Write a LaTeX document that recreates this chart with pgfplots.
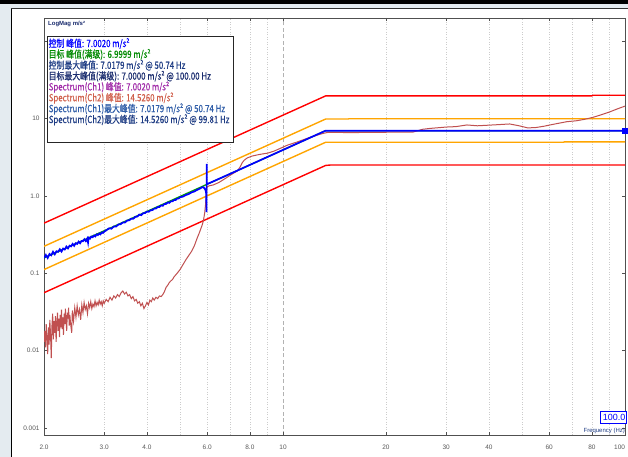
\documentclass[border=0pt]{standalone}
\usepackage{fontspec}
\setmainfont{Liberation Sans}
\newfontfamily\cjk[FakeStretch=0.79,FakeBold=0.4]{Noto Sans CJK SC}
\usepackage{pgfplots}
\pgfplotsset{compat=1.18}
\definecolor{panelgray}{HTML}{E4EBF0}
\definecolor{ablue}{HTML}{0000FF}
\definecolor{agreen}{HTML}{00A000}
\definecolor{ared}{HTML}{FF0000}
\definecolor{aorange}{HTML}{FFA500}
\definecolor{abrown}{HTML}{C05050}
\definecolor{cA}{HTML}{0000FF}
\definecolor{cB}{HTML}{008A00}
\definecolor{cC}{HTML}{1E3C84}
\definecolor{cD}{HTML}{1A2C6E}
\definecolor{cE}{HTML}{A02AA8}
\definecolor{cF}{HTML}{D0604C}
\definecolor{cG}{HTML}{2F5DA8}
\definecolor{cH}{HTML}{1E3C84}
\definecolor{tickgray}{HTML}{505050}
\begin{document}
\begin{tikzpicture}
\path[use as bounding box] (0,0) rectangle (628bp,457bp);
\fill[white] (0,0) rectangle (628bp,457bp);
\fill[panelgray] (0,0) rectangle (11bp,457bp);
\fill[panelgray] (0,448.5bp) rectangle (628bp,457bp);
\fill[black] (0,453bp) rectangle (628bp,457bp);
\draw[black, line width=1.2bp] (11.5bp,0) -- (11.5bp,448.5bp);
\draw[black!80, line width=0.9bp] (11bp,448.2bp) -- (628bp,448.2bp);
\begin{axis}[
  at={(44bp,22bp)}, anchor=south west, scale only axis,
  width=581bp, height=417bp,
  xmode=log, ymode=log,
  xmin=2, xmax=100, ymin=0.00081, ymax=200.8,
  axis line style={draw=tickgray, line width=0.8bp},
  tick align=inside, major tick length=3bp, minor tick length=0pt,
  tick style={color=tickgray, line width=0.6bp},
  xtick={2,3,4,6,8,10,20,30,40,60,80,100},
  xticklabels={2.0,3.0,4.0,6.0,8.0,10,20,30,40,60,80,\makebox[0pt][r]{100}},
  minor xtick={3,4,5,6,7,8,9,20,30,40,50,60,70,80,90},
  xminorgrids=true,
  minor grid style={color=black!20, line width=0.6bp, dash pattern=on 1bp off 1.5bp},
  extra x ticks={10}, extra x tick labels={},
  extra x tick style={grid=major, major grid style={color=black!30, line width=1bp, dash pattern=on 4bp off 2.5bp}},
  ytick={0.001,0.01,0.1,1,10,100},
  yticklabels={0.001,0.01,0.1,1.0,10,{}},
  ticklabel style={font=\fontsize{6.5}{7}\selectfont, text=black!65},
  xticklabel style={yshift=-6.5bp},
  yticklabel style={xshift=-1bp},
  /pgf/number format/assume math mode=true,
]
% limits
\addplot[ared, line width=1.4bp] coordinates {(2,0.4455) (13.32,19.73) (80,19.73) (80.6,20.1) (100,20.1)};
\addplot[aorange, line width=1.4bp] coordinates {(2,0.2235) (13.32,9.90) (15.5,9.90) (15.6,10.0) (100,10.0)};
\addplot[aorange, line width=1.4bp] coordinates {(2,0.1118) (13.32,4.955) (66,4.955) (66.5,5.02) (100,5.02)};
\addplot[ared, line width=1.4bp] coordinates {(2,0.0561) (13.32,2.485) (13.8,2.52) (100,2.52)};
% target
\addplot[agreen, line width=1.3bp] coordinates {(2,0.1579) (13.32,7.0) (100,7.0)};
% spectrum ch2
\addplot[abrown, line width=1.0bp] coordinates {
(2.00,0.013) (2.01,0.018) (2.02,0.011) (2.03,0.022) (2.04,0.014) (2.05,0.009)
(2.06,0.020) (2.07,0.012) (2.08,0.025) (2.09,0.016) (2.10,0.008) (2.11,0.021)
(2.12,0.030) (2.13,0.014) (2.14,0.024) (2.15,0.017) (2.16,0.028) (2.17,0.013)
(2.18,0.022) (2.19,0.031) (2.20,0.018) (2.21,0.026) (2.22,0.015) (2.23,0.029)
(2.24,0.020) (2.25,0.034) (2.26,0.019) (2.27,0.027) (2.28,0.016) (2.29,0.030)
(2.30,0.022) (2.31,0.035) (2.32,0.024) (2.33,0.018) (2.34,0.031) (2.35,0.026)
(2.36,0.036) (2.37,0.021) (2.38,0.029) (2.39,0.023) (2.41,0.017) (2.42,0.033)
(2.44,0.024) (2.46,0.036) (2.48,0.027) (2.50,0.038) (2.52,0.029) (2.54,0.034)
(2.56,0.025) (2.58,0.039) (2.60,0.031) (2.62,0.042) (2.64,0.034) (2.66,0.038)
(2.68,0.030) (2.70,0.041) (2.72,0.036) (2.74,0.043) (2.76,0.035) (2.78,0.040)
(2.80,0.037) (2.82,0.044) (2.84,0.038) (2.86,0.042) (2.88,0.039) (2.90,0.045)
(2.92,0.040) (2.94,0.043) (2.96,0.038) (2.98,0.044) (3.00,0.041) (3.04,0.046)
(3.08,0.043) (3.12,0.049) (3.16,0.045) (3.20,0.051) (3.24,0.048) (3.28,0.053)
(3.32,0.050) (3.36,0.056) (3.40,0.059) (3.44,0.054) (3.48,0.057) (3.52,0.051)
(3.56,0.053) (3.60,0.047) (3.64,0.050) (3.68,0.044) (3.72,0.046) (3.76,0.041)
(3.80,0.043) (3.84,0.038) (3.88,0.041) (3.92,0.035) (3.96,0.038) (4.00,0.042)
(4.04,0.039) (4.08,0.045) (4.12,0.043) (4.16,0.048) (4.20,0.045) (4.25,0.049)
(4.30,0.047) (4.35,0.051) (4.40,0.050) (4.45,0.053) (4.50,0.058) (4.55,0.066)
(4.60,0.070) (4.65,0.076) (4.70,0.080) (4.75,0.083) (4.80,0.090) (4.90,0.100)
(5.00,0.112) (5.10,0.130) (5.20,0.150) (5.30,0.170) (5.40,0.192) (5.50,0.225)
(5.60,0.280) (5.70,0.340) (5.80,0.420) (5.85,0.480) (5.90,0.600) (5.93,0.750)
(5.96,0.950) (5.98,1.200) (6.00,1.320) (6.10,1.36) (6.25,1.39) (6.50,1.50)
(6.80,1.70) (7.00,1.85) (7.20,2.00) (7.35,2.10) (7.50,2.40) (7.60,2.70)
(7.70,2.90) (7.85,3.10) (8.10,3.28) (8.40,3.40) (8.70,3.50) (9.00,3.58)
(9.40,3.80) (9.80,4.12) (10.30,4.55) (11.00,5.00) (12.00,5.75) (13.00,6.40)
(13.50,6.65) (16,6.62) (20,6.68) (24,6.72) (25.6,7.3) (27,7.5) (30,7.8)
(32,7.9) (34.5,8.3) (37,8.1) (40,8.25) (43,8.4) (46,8.55) (49,8.1) (52,7.6)
(55,7.7) (58,8.0) (62,8.5) (67.6,9.15) (72,9.4) (76,9.8) (80.5,10.4)
(85,11.2) (90,12.2) (95,13.4) (99.8,14.5) (100,14.55)
};
% control / spectrum ch1
\addplot[ablue, line width=1.7bp] coordinates {
(2.000,0.157) (2.025,0.173) (2.050,0.158) (2.075,0.178) (2.100,0.171) (2.125,0.190)
(2.150,0.176) (2.175,0.193) (2.200,0.190) (2.225,0.205) (2.250,0.191) (2.275,0.209)
(2.300,0.203) (2.325,0.222) (2.350,0.210) (2.375,0.228) (2.400,0.223) (2.425,0.240)
(2.450,0.227) (2.475,0.245) (2.500,0.240) (2.525,0.257) (2.550,0.245) (2.575,0.262)
(2.600,0.260) (2.625,0.276) (2.650,0.261) (2.675,0.281) (2.690,0.250) (2.700,0.289)
(2.725,0.280) (2.750,0.299) (2.775,0.293) (2.800,0.308) (2.825,0.300) (2.850,0.319)
(2.875,0.312) (2.900,0.327) (2.925,0.319) (2.950,0.338) (2.975,0.333) (3.000,0.346)
(3.05,0.363) (3.10,0.382) (3.15,0.378) (3.20,0.403) (3.25,0.403) (3.30,0.428)
(3.35,0.432) (3.40,0.455) (3.45,0.454) (3.50,0.482) (3.55,0.485) (3.60,0.510)
(3.65,0.509) (3.70,0.538) (3.75,0.542) (3.80,0.575) (3.85,0.566) (3.90,0.599)
(3.95,0.602) (4.00,0.630) (4.05,0.626) (4.10,0.655) (4.15,0.657) (4.20,0.687)
(4.25,0.689) (4.30,0.721) (4.35,0.722) (4.40,0.754) (4.45,0.747) (4.50,0.789)
(4.55,0.790) (4.60,0.825) (4.65,0.816) (4.70,0.852) (4.75,0.852) (4.80,0.888)
(4.85,0.888) (4.90,0.925) (4.95,0.925) (5.00,0.964) (5.10,0.983) (5.20,1.031)
(5.30,1.061) (5.40,1.113) (5.50,1.143) (5.60,1.197) (5.70,1.240) (5.80,1.297)
(5.85,1.300) (5.90,1.25) (5.94,1.18) (5.96,1.08) (5.975,0.62) (5.98,2.6)
(5.985,1.40) (6.00,1.43) (6.02,1.435) (7,1.935) (8,2.527) (9,3.198) (10,3.948)
(11,4.777) (12,5.685) (13.32,7.0) (100,7.0)
};
\addplot[ablue, only marks, mark=square*, mark size=2.5bp] coordinates {(100,7.0)};
\end{axis}
% legend box
\draw[black!85, line width=0.9bp, fill=white] (47bp,315bp) rectangle (233bp,421bp);
\begin{scope}[every node/.style={anchor=west, inner sep=0pt, font=\cjk\fontsize{10}{10}\selectfont}]
\node[text=cA] at (48.5bp,413.5bp) {控制 峰值: 7.0020 m/s²};
\node[text=cB] at (48.5bp,402.6bp) {目标 峰值(满级): 6.9999 m/s²};
\node[text=cC] at (48.5bp,391.7bp) {控制最大峰值: 7.0179 m/s² @ 50.74 Hz};
\node[text=cD] at (48.5bp,380.8bp) {目标最大峰值(满级): 7.0000 m/s² @ 100.00 Hz};
\node[text=cE] at (48.5bp,369.9bp) {Spectrum(Ch1) 峰值: 7.0020 m/s²};
\node[text=cF] at (48.5bp,359.0bp) {Spectrum(Ch2) 峰值: 14.5260 m/s²};
\node[text=cG] at (48.5bp,348.1bp) {Spectrum(Ch1)最大峰值: 7.0179 m/s² @ 50.74 Hz};
\node[text=cH] at (48.5bp,337.2bp) {Spectrum(Ch2)最大峰值: 14.5260 m/s² @ 99.81 Hz};
\end{scope}
\node[anchor=west, inner sep=0pt, text=cD, font=\bfseries\fontsize{6}{6}\selectfont] at (48bp,433.5bp) {LogMag m/s²};
\draw[ablue, line width=0.9bp, fill=white] (600bp,34bp) rectangle (626bp,46bp);
\node[anchor=east, inner sep=0pt, text=ablue, font=\fontsize{9}{9}\selectfont] at (625.5bp,40bp) {100.0};
\node[anchor=east, inner sep=0pt, text=cC, font=\fontsize{6}{6}\selectfont] at (625bp,26bp) {Frequency (Hz)};
\end{tikzpicture}
\end{document}
